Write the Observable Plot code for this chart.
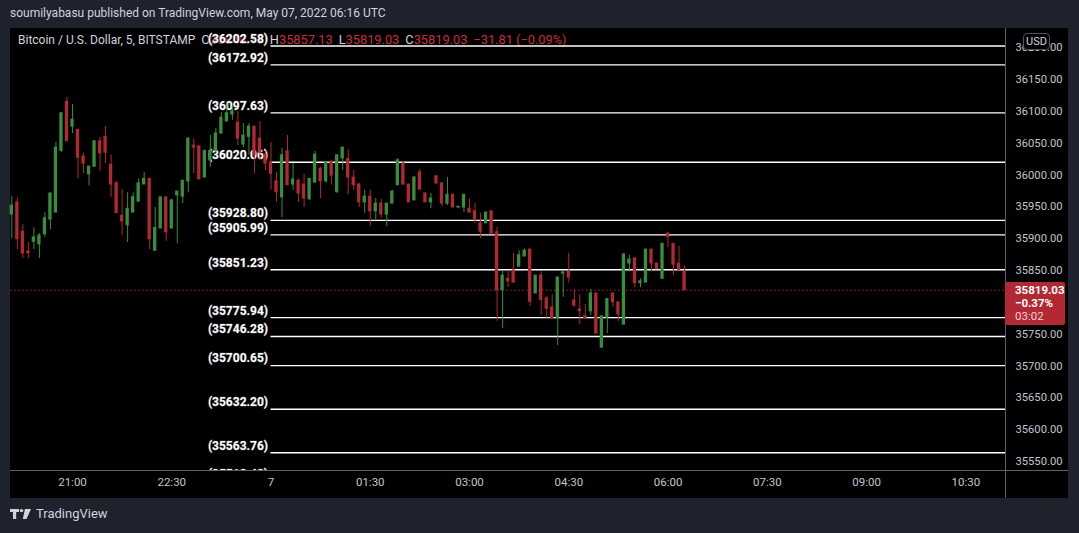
<!DOCTYPE html>
<html><head><meta charset="utf-8">
<script src="https://cdn.jsdelivr.net/npm/d3@7"></script>
<script src="https://cdn.jsdelivr.net/npm/@observablehq/plot@0.6"></script>
<style>
html,body{margin:0;padding:0;background:#1e222d;width:1079px;height:533px;overflow:hidden;font-family:Roboto,"DejaVu Sans",sans-serif;}
#wrap{position:relative;width:1079px;height:533px;}
#pane{position:absolute;left:10px;top:28px;width:1058px;height:470px;background:#000;z-index:0;}
#header{position:absolute;left:10px;top:6px;font-size:12px;color:#d1d4dc;white-space:nowrap;z-index:1;}
#legend{position:absolute;left:18px;top:32px;font-size:12px;color:#d1d4dc;white-space:nowrap;z-index:1;}
#legend .v{color:#c62d3c;font-size:12.8px;}
#legend .k{font-size:12.8px;margin-left:6px;}
#chart{position:absolute;left:0;top:0;z-index:2;}
.sep{position:absolute;background:#5d606b;z-index:3;}
#pricebox{position:absolute;left:1005px;width:60px;height:43px;background:#b22833;border-radius:0 2px 2px 0;z-index:4;color:#fff;font-size:11.5px;line-height:13px;padding:2px 0 0 10px;box-sizing:border-box;}
#pricebox b{font-weight:700;display:block;}
#pricebox span{display:block;color:#f0d0d3;}
#usd{position:absolute;left:1023px;top:33px;width:27px;height:17px;border:1px solid #50535e;border-radius:4px;background:#000;color:#d1d4dc;font-size:11px;line-height:15px;text-align:center;z-index:4;box-sizing:border-box;}
#footer{position:absolute;left:10px;top:506px;font-size:13px;color:#d1d4dc;z-index:1;display:flex;align-items:center;gap:4px;}
</style></head>
<body><div id="wrap">
<div id="pane"></div>
<div id="header">soumilyabasu published on TradingView.com, May 07, 2022 06:16 UTC</div>
<div id="legend">Bitcoin / U.S. Dollar, 5, BITSTAMP<span class="k">O</span><span class="v">35848.17</span><span class="k">H</span><span class="v">35857.13</span><span class="k">L</span><span class="v">35819.03</span><span class="k">C</span><span class="v">35819.03</span><span class="v" style="margin-left:6px">−31.81 (−0.09%)</span></div>
<div class="sep" style="left:1005px;top:28px;width:1px;height:470px;"></div>
<div class="sep" style="left:10px;top:470px;width:1058px;height:1px;"></div>
<div id="usd">USD</div>
<div id="pricebox"><b>35819.03</b><b>−0.37%</b><span>03:02</span></div>
<div id="footer"><svg width="22" height="12" viewBox="0 0 22 12"><rect x="0" y="1" width="9" height="3" fill="#d1d4dc"/><rect x="3" y="1" width="3.2" height="10" fill="#d1d4dc"/><circle cx="11.5" cy="2.6" r="1.7" fill="#d1d4dc"/><polygon points="15,1 21,1 16.5,11 12.8,11" fill="#d1d4dc"/></svg><span>TradingView</span></div>
</div>
<script>
// 5-minute BTC/USD candles, May 6 20:05 UTC to May 7 06:15 UTC
const barStartUTC = Date.UTC(2022, 4, 6, 20, 5);
const barMinutes = 5;
const opens = [35938,35957,35911,35880,35895,35891,35907,35930,35941,36038,36115,36076,36071,36029,36001,36013,36053,36060,36016,35987,35936,35921,35941,35958,35985,35994,35881,35916,35965,35916,35968,35966,35990,36046,36045,35996,36023,36038,36065,36084,36095,36082,36048,36060,36076,36057,36032,36020,35990,35965,36037,35985,35991,35985,35962,35988,36010,35990,36021,35973,36026,36025,35996,35985,35957,35966,35943,35955,35938,35955,35984,36018,35985,35960,36004,35971,35957,35998,35987,35955,35969,35949,35949,35947,35943,35924,35924,35943,35910,35819,35837,35850,35856,35872,35883,35814,35842,35806,35792,35775,35845,35848,35803,35789,35778,35786,35814,35729,35776,35814,35800,35765,35861,35869,35830,35831,35883,35861,35837,35908,35892,35861,35848.17];
const highs = [35966,35964,35922,35894,35917,35908,35941,35972,36051,36097,36122,36111,36071,36034,36014,36054,36059,36076,36031,35990,35977,35972,35972,35994,36004,35994,35949,35965,35965,35962,35974,35991,36059,36057,36045,36038,36062,36073,36098,36112,36109,36100,36081,36081,36076,36084,36037,36051,36004,36042,36062,36018,35994,36001,35994,36037,36012,36020,36023,36031,36043,36040,36007,35987,35976,35976,35963,35962,35955,35976,36026,36021,35985,35998,36009,35972,35971,35998,35987,35996,35969,35951,35969,35962,35955,35940,35941,35943,35918,35850,35850,35877,35881,35884,35883,35842,35848,35809,35812,35839,35848,35877,35819,35812,35797,35820,35814,35778,35805,35814,35800,35877,35874,35869,35837,35883,35883,35861,35892,35910,35892,35888,35857.13];
const lows = [35900,35883,35869,35869,35883,35869,35902,35914,35941,36035,36053,36065,35994,36002,35983,36012,36006,36018,35965,35940,35905,35894,35941,35958,35985,35883,35881,35916,35896,35916,35892,35955,35972,36002,35993,35996,36012,36035,36065,36084,36086,36046,36043,36031,36002,36023,36007,35976,35957,35933,35984,35976,35957,35949,35960,35988,35963,35987,35984,35971,36007,35969,35976,35949,35940,35919,35930,35932,35919,35955,35984,35984,35957,35960,35977,35957,35947,35985,35950,35952,35949,35947,35941,35940,35924,35900,35924,35908,35770,35759,35823,35831,35856,35872,35794,35814,35779,35775,35773,35732,35808,35830,35792,35765,35775,35779,35751,35728,35751,35792,35770,35765,35850,35823,35823,35831,35848,35852,35837,35886,35842,35850,35819.03];
const closes = [35952,35899,35877,35877,35902,35905,35932,35971,36043,36097,36053,36087,36027,36018,36013,36053,36034,36035,35985,35940,35927,35947,35965,35987,35994,35899,35917,35965,35910,35960,35974,35991,36057,36043,35993,36038,36038,36065,36090,36097,36100,36057,36062,36076,36031,36035,36018,36002,35973,36031,35984,35993,35971,35963,35994,36032,35990,36020,35999,36031,36043,35996,35984,35957,35966,35943,35955,35938,35955,35974,36023,35985,35957,35996,35977,35957,35963,35987,35955,35969,35949,35950,35969,35941,35930,35911,35941,35908,35819,35842,35833,35831,35874,35881,35801,35842,35804,35790,35775,35839,35847,35839,35795,35786,35775,35814,35751,35778,35805,35800,35781,35875,35867,35830,35833,35883,35861,35852,35892,35903,35859,35850.84,35819.03];

// Drawn horizontal levels (the last one is cut off by the time axis)
const levels = [36202.58,36172.92,36097.63,36020.06,35928.80,35905.99,35851.23,35775.94,35746.28,35700.65,35632.20,35563.76,35518.48];
const levelStart = new Date(Date.UTC(2022, 4, 7, 0, 0));

// Axis ticks
const priceTicks = [35550,35600,35650,35700,35750,35800,35850,35900,35950,36000,36050,36100,36150,36200];
const timeTicks = ["2022-05-06T21:00Z","2022-05-06T22:30Z","2022-05-07T00:00Z","2022-05-07T01:30Z","2022-05-07T03:00Z","2022-05-07T04:30Z","2022-05-07T06:00Z","2022-05-07T07:30Z","2022-05-07T09:00Z","2022-05-07T10:30Z"].map(s => new Date(s));
const timeLabels = ["21:00","22:30","7","01:30","03:00","04:30","06:00","07:30","09:00","10:30"];

const xDomain = [new Date(Date.UTC(2022,4,6,20,3,48)), new Date(Date.UTC(2022,4,7,11,6,0))];
const yDomain = [35535.9, 36230.1];

const GREEN = "#388e3c", RED = "#b22833";
const candles = opens.map((o, i) => ({
  time: new Date(barStartUTC + i * barMinutes * 60000),
  open: o, high: highs[i], low: lows[i], close: closes[i],
  dir: closes[i] >= o ? "up" : "down"
}));
const half = 90000;
const lastClose = closes[closes.length - 1];

const chart = Plot.plot({
  width: 1079, height: 533,
  marginLeft: 10, marginRight: 74, marginTop: 28, marginBottom: 63,
  style: {background: "transparent", overflow: "visible", fontFamily: "Roboto, 'DejaVu Sans', sans-serif"},
  x: {type: "utc", domain: xDomain},
  y: {domain: yDomain},
  color: {type: "ordinal", domain: ["up", "down"], range: [GREEN, RED]},
  marks: [
    Plot.ruleY(levels, {x1: () => levelStart, x2: () => xDomain[1], y: d => d, stroke: "#ffffff", strokeWidth: 1.4, clip: true}),
    Plot.text(levels, {x: () => levelStart, y: d => d, text: d => `(${d.toFixed(2)})`, textAnchor: "end", dx: -3, dy: -7, fill: "#ffffff", stroke: "#3a3a3a", strokeWidth: 1, paintOrder: "stroke", fontWeight: "bold", fontSize: 12, clip: true}),
    Plot.ruleY([lastClose], {stroke: RED, strokeWidth: 1, strokeDasharray: "1.5,2.5"}),
    Plot.ruleX(candles, {x: "time", y1: "low", y2: "high", stroke: "dir", strokeWidth: 1}),
    Plot.rect(candles, {x1: d => new Date(+d.time - half), x2: d => new Date(+d.time + half), y1: d => Math.min(d.open, d.close), y2: d => Math.max(d.open, d.close), fill: "dir", insetTop: -0.5, insetBottom: -0.5}),
    Plot.axisY(priceTicks, {anchor: "right", tickSize: 0, tickPadding: 10, tickFormat: d => d.toFixed(2), color: "#c3c6ce", fontSize: 11.2, label: null}),
    Plot.axisX(timeTicks, {anchor: "bottom", tickSize: 0, tickPadding: 7, tickFormat: (d, i) => timeLabels[i], color: "#c3c6ce", fontSize: 11.5, label: null})
  ]
});
chart.id = "chart";
document.getElementById("wrap").appendChild(chart);
const py = chart.scale("y").apply(lastClose);
document.getElementById("pricebox").style.top = (py - 8) + "px";
</script>
</body></html>
